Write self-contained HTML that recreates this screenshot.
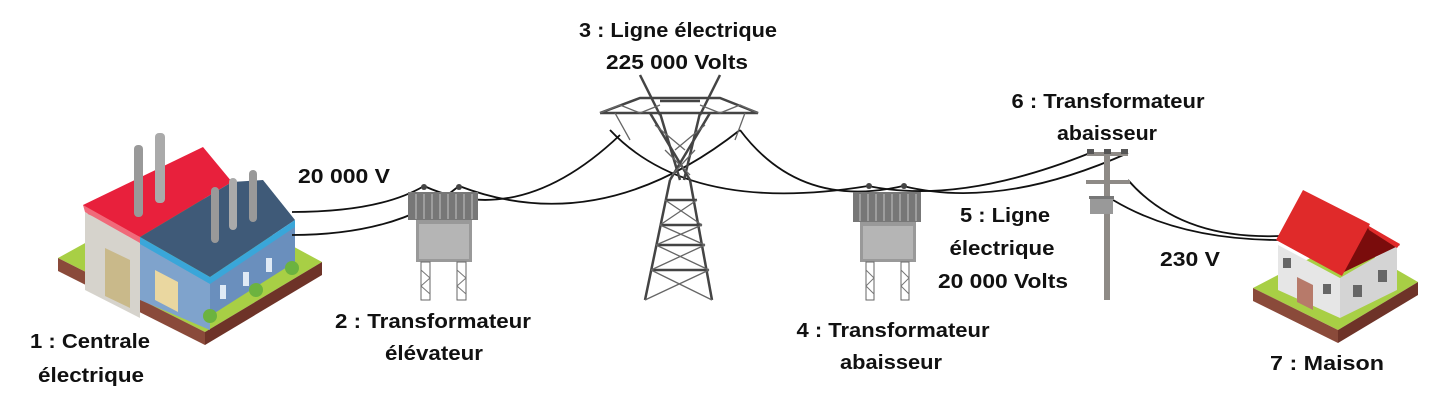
<!DOCTYPE html>
<html><head><meta charset="utf-8"><style>
html,body{margin:0;padding:0;background:#fff;width:1448px;height:414px;overflow:hidden}
text{font-family:"Liberation Sans",sans-serif;font-weight:bold;font-size:20px;fill:#111}
</style></head><body>
<svg width="1448" height="414" viewBox="0 0 1448 414" xmlns="http://www.w3.org/2000/svg">
<!-- FACTORY -->
<polygon points="58,258 185,188 322,262 205,332" fill="#a8cf45"/>
<polygon points="58,258 205,332 205,345 58,271" fill="#8a4a3a"/>
<polygon points="205,332 322,262 322,275 205,345" fill="#6e3328"/>
<polygon points="85,212 140,238 140,318 85,290" fill="#d6d3cc"/>
<polygon points="105,248 130,260 130,308 105,296" fill="#c9b98a"/>
<polygon points="83,205 203,147 232,182 140,237 88,214" fill="#e8203c"/>
<polygon points="83,205 140,237 140,243 85,212" fill="#f06a7a"/>
<polygon points="140,240 210,278 210,330 140,300" fill="#7fa3cc"/>
<polygon points="155,270 178,282 178,312 155,300" fill="#ead7a0"/>
<polygon points="210,278 295,225 295,262 210,316" fill="#6a8fbd"/>
<polygon points="140,237 232,182 263,180 295,220 210,277" fill="#3f5a78"/>
<polygon points="140,237 210,277 210,284 140,244" fill="#3aa6d9"/>
<polygon points="210,277 295,220 295,227 210,284" fill="#3aa6d9"/>
<rect x="220" y="285" width="6" height="14" fill="#dfeaf5"/><rect x="243" y="272" width="6" height="14" fill="#dfeaf5"/><rect x="266" y="258" width="6" height="14" fill="#dfeaf5"/>
<rect x="134" y="145" width="9" height="72" rx="4" fill="#999"/>
<rect x="155" y="133" width="10" height="70" rx="4" fill="#aaa"/>
<rect x="211" y="187" width="8" height="56" rx="4" fill="#999"/>
<rect x="229" y="178" width="8" height="52" rx="4" fill="#aaa"/>
<rect x="249" y="170" width="8" height="52" rx="4" fill="#999"/>
<circle cx="210" cy="316" r="7" fill="#6cb33f"/><circle cx="256" cy="290" r="7" fill="#6cb33f"/><circle cx="292" cy="268" r="7" fill="#6cb33f"/>
<!-- WIRES -->
<g fill="none" stroke="#111" stroke-width="1.8">
<path d="M292,212 Q380,212 424,186"/>
<path d="M292,235 Q400,235 459,186"/>
<path d="M424,186 Q520,230 620,135"/>
<path d="M459,186 Q600,240 740,130"/>
<path d="M610,130 Q690,215 868,186"/>
<path d="M740,130 Q800,210 903,186"/>
<path d="M868,186 Q960,205 1090,153"/>
<path d="M903,186 Q1000,210 1128,153"/>
<path d="M1128,180 Q1180,240 1280,236"/>
<path d="M1113,200 Q1180,240 1280,240"/>
</g>
<!-- TRANSFORMER 2 -->
<g>
<rect x="408" y="192" width="70" height="28" fill="#777"/>
<g stroke="#aaa" stroke-width="1.5"><line x1="416" y1="194" x2="416" y2="219"/><line x1="424" y1="194" x2="424" y2="219"/><line x1="432" y1="194" x2="432" y2="219"/><line x1="440" y1="194" x2="440" y2="219"/><line x1="448" y1="194" x2="448" y2="219"/><line x1="456" y1="194" x2="456" y2="219"/><line x1="464" y1="194" x2="464" y2="219"/><line x1="472" y1="194" x2="472" y2="219"/></g>
<rect x="416" y="220" width="56" height="42" fill="#999"/><rect x="419" y="224" width="50" height="35" fill="#b5b5b5"/>
<rect x="421" y="262" width="9" height="38" fill="none" stroke="#666"/><rect x="457" y="262" width="9" height="38" fill="none" stroke="#666"/>
<path d="M421,270 L430,278 L421,286 L430,294 M457,270 L466,278 L457,286 L466,294" stroke="#777" fill="none"/>
<circle cx="424" cy="187" r="3" fill="#444"/><circle cx="459" cy="187" r="3" fill="#444"/>
</g>
<!-- TRANSFORMER 4 -->
<g>
<rect x="853" y="192" width="68" height="30" fill="#777"/>
<g stroke="#aaa" stroke-width="1.5"><line x1="860" y1="194" x2="860" y2="221"/><line x1="868" y1="194" x2="868" y2="221"/><line x1="876" y1="194" x2="876" y2="221"/><line x1="884" y1="194" x2="884" y2="221"/><line x1="892" y1="194" x2="892" y2="221"/><line x1="900" y1="194" x2="900" y2="221"/><line x1="908" y1="194" x2="908" y2="221"/><line x1="916" y1="194" x2="916" y2="221"/></g>
<rect x="860" y="222" width="56" height="40" fill="#999"/><rect x="863" y="226" width="50" height="33" fill="#b5b5b5"/>
<rect x="866" y="262" width="8" height="38" fill="none" stroke="#666"/><rect x="901" y="262" width="8" height="38" fill="none" stroke="#666"/>
<path d="M866,270 L874,278 L866,286 L874,294 M901,270 L909,278 L901,286 L909,294" stroke="#777" fill="none"/>
<circle cx="869" cy="186" r="3" fill="#444"/><circle cx="904" cy="186" r="3" fill="#444"/>
</g>
<!-- PYLON -->
<g fill="none" stroke="#444" stroke-width="2.5">
<line x1="640" y1="75" x2="660" y2="115"/><line x1="720" y1="75" x2="700" y2="115"/>
<polyline points="600,113 640,98 720,98 758,113 600,113"/>
<line x1="660" y1="101" x2="700" y2="101"/>
<line x1="650" y1="113" x2="690" y2="180"/><line x1="710" y1="113" x2="670" y2="180"/>
<line x1="660" y1="113" x2="680" y2="180"/><line x1="700" y1="113" x2="684" y2="180"/>
<line x1="670" y1="180" x2="645" y2="300"/><line x1="690" y1="180" x2="712" y2="300"/>
<line x1="665" y1="200" x2="697" y2="200"/><line x1="660" y1="225" x2="702" y2="225"/><line x1="656" y1="245" x2="705" y2="245"/><line x1="651" y1="270" x2="709" y2="270"/>
</g>
<g fill="none" stroke="#666" stroke-width="1.3">
<path d="M665,200 L702,225 M697,200 L660,225 M660,225 L705,245 M702,225 L656,245 M656,245 L709,270 M705,245 L651,270 M651,270 L712,300 M709,270 L645,300"/>
<path d="M600,113 L620,105 L640,113 L660,105 M700,105 L720,113 L740,105 L758,113"/>
<path d="M655,125 L685,150 M705,125 L675,150 M665,150 L690,175 M695,150 L672,175"/>
<line x1="615" y1="113" x2="630" y2="140"/><line x1="745" y1="113" x2="735" y2="140"/>
</g>
<!-- POLE -->
<rect x="1104" y="150" width="6" height="150" fill="#8e8a86"/>
<rect x="1087" y="152" width="41" height="4" fill="#8e8a86"/>
<rect x="1087" y="149" width="7" height="5" fill="#555"/><rect x="1104" y="149" width="7" height="5" fill="#555"/><rect x="1121" y="149" width="7" height="5" fill="#555"/>
<rect x="1086" y="180" width="44" height="4" fill="#8e8a86"/>
<rect x="1090" y="198" width="23" height="16" fill="#999"/><rect x="1089" y="196" width="25" height="3" fill="#777"/>
<!-- HOUSE -->
<polygon points="1253,288 1345,240 1418,282 1338,330" fill="#a8cf45"/>
<polygon points="1253,288 1338,330 1338,343 1253,301" fill="#8a4a3a"/>
<polygon points="1338,330 1418,282 1418,295 1338,343" fill="#6e3328"/>
<polygon points="1278,245 1340,278 1340,318 1278,290" fill="#e6e6e6"/>
<polygon points="1340,278 1397,245 1397,290 1340,318" fill="#d4d4d4"/>
<polygon points="1340,274 1367,225 1400,245" fill="#7a0c0c"/>
<polygon points="1297,277 1313,285 1313,310 1297,302" fill="#b77a6a"/>
<rect x="1283" y="258" width="8" height="10" fill="#666"/><rect x="1323" y="284" width="8" height="10" fill="#666"/>
<rect x="1353" y="285" width="9" height="12" fill="#666"/><rect x="1378" y="270" width="9" height="12" fill="#666"/>
<polygon points="1276,240 1303,190 1370,224 1342,276" fill="#e02a2a"/>
<polygon points="1367,225 1400,244 1397,248 1369,230" fill="#e02a2a"/>
<!-- LABELS -->
<text x="678" y="37" text-anchor="middle" textLength="198" lengthAdjust="spacingAndGlyphs">3 : Ligne électrique</text>
<text x="677" y="69" text-anchor="middle" textLength="142" lengthAdjust="spacingAndGlyphs">225 000 Volts</text>
<text x="1108" y="108" text-anchor="middle" textLength="193" lengthAdjust="spacingAndGlyphs">6 : Transformateur</text>
<text x="1107" y="140" text-anchor="middle" textLength="100" lengthAdjust="spacingAndGlyphs">abaisseur</text>
<text x="344" y="183" text-anchor="middle" textLength="92" lengthAdjust="spacingAndGlyphs">20 000 V</text>
<text x="1005" y="222" text-anchor="middle" textLength="90" lengthAdjust="spacingAndGlyphs">5 : Ligne</text>
<text x="1002" y="255" text-anchor="middle" textLength="105" lengthAdjust="spacingAndGlyphs">électrique</text>
<text x="1003" y="288" text-anchor="middle" textLength="130" lengthAdjust="spacingAndGlyphs">20 000 Volts</text>
<text x="1190" y="266" text-anchor="middle" textLength="60" lengthAdjust="spacingAndGlyphs">230 V</text>
<text x="90" y="348" text-anchor="middle" textLength="120" lengthAdjust="spacingAndGlyphs">1 : Centrale</text>
<text x="91" y="382" text-anchor="middle" textLength="106" lengthAdjust="spacingAndGlyphs">électrique</text>
<text x="433" y="328" text-anchor="middle" textLength="196" lengthAdjust="spacingAndGlyphs">2 : Transformateur</text>
<text x="434" y="360" text-anchor="middle" textLength="98" lengthAdjust="spacingAndGlyphs">élévateur</text>
<text x="893" y="337" text-anchor="middle" textLength="193" lengthAdjust="spacingAndGlyphs">4 : Transformateur</text>
<text x="891" y="369" text-anchor="middle" textLength="102" lengthAdjust="spacingAndGlyphs">abaisseur</text>
<text x="1327" y="370" text-anchor="middle" textLength="114" lengthAdjust="spacingAndGlyphs">7 : Maison</text>
</svg>
</body></html>
